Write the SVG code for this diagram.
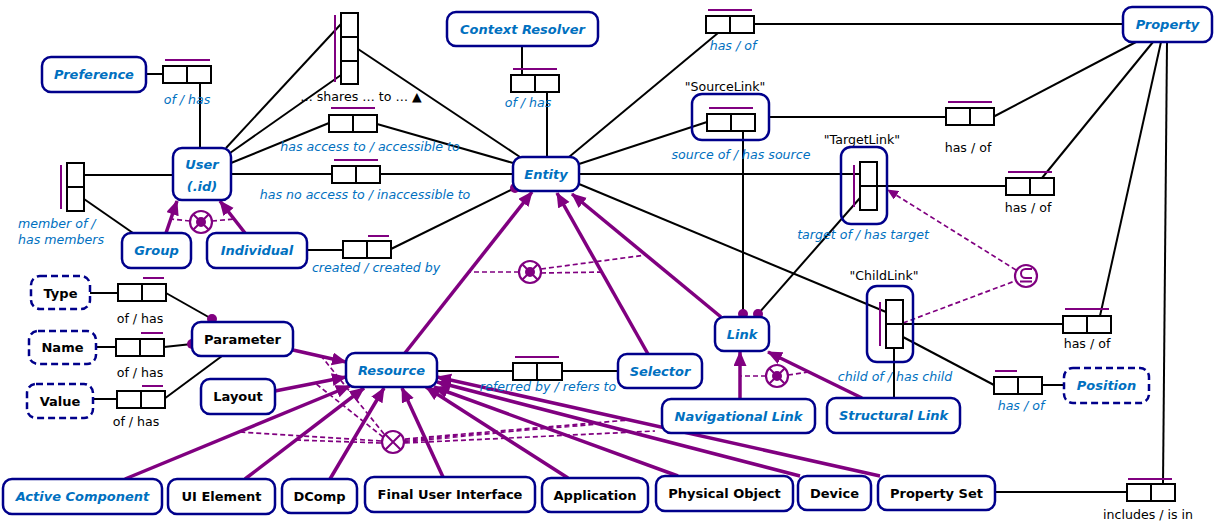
<svg xmlns="http://www.w3.org/2000/svg" width="1214" height="524" viewBox="0 0 1214 524">
<style>
.n{fill:#fff;stroke:#00008B;stroke-width:2.5}
.nd{fill:#fff;stroke:#00008B;stroke-width:2.5;stroke-dasharray:7 4}
.fr{fill:none;stroke:#00008B;stroke-width:2.5}
.rb{fill:#fff;stroke:#000;stroke-width:2}
.dv{stroke:#000;stroke-width:2}
.u{stroke:#800080;stroke-width:2;fill:none}
.c{stroke:#000;stroke-width:2;fill:none}
.s{stroke:#800080;stroke-width:3.5;fill:none;marker-end:url(#ah)}
.d{stroke:#800080;stroke-width:1.7;stroke-dasharray:5 3;fill:none}
.k{fill:#fff;stroke:#800080;stroke-width:2.2}
.dot{fill:#800080}
.tb{font-family:"DejaVu Sans",sans-serif;font-size:13px;font-weight:bold;font-style:italic;fill:#0070C0;text-anchor:middle}
.tk{font-family:"DejaVu Sans",sans-serif;font-size:13px;font-weight:bold;fill:#000;text-anchor:middle}
.li{font-family:"DejaVu Sans",sans-serif;font-size:12.6px;font-style:italic;fill:#0070C0;text-anchor:middle}
.lk{font-family:"DejaVu Sans",sans-serif;font-size:12.6px;fill:#000;text-anchor:middle}
</style>
<defs>
<marker id="ah" markerUnits="userSpaceOnUse" markerWidth="16" markerHeight="14" refX="14" refY="6.5" orient="auto">
<path d="M0,0 L15,6.5 L0,13 z" fill="#800080"/>
</marker>
<marker id="sh" markerUnits="userSpaceOnUse" markerWidth="12" markerHeight="10" refX="10" refY="5" orient="auto">
<path d="M0,0 L11,5 L0,10 z" fill="#800080"/>
</marker>
</defs>

<g id="connectors">
<path class="c" d="M146,74H163"/>
<path class="c" d="M200,83V148"/>
<path class="c" d="M84,175H173"/>
<path class="c" d="M84,199L133,233"/>
<path class="c" d="M226,148L341,24"/>
<path class="c" d="M230,153L341,75"/>
<path class="c" d="M231,163L329,123"/>
<path class="c" d="M377,124L513,163"/>
<path class="c" d="M358,49L520,157"/>
<path class="c" d="M231,174H332"/>
<path class="c" d="M379,174H513"/>
<path class="c" d="M307,250H343"/>
<path class="c" d="M391,249L515,188"/>
<path class="c" d="M522,46V75"/>
<path class="c" d="M547,92V157"/>
<path class="c" d="M569,157L718,33"/>
<path class="c" d="M754,24H1123"/>
<path class="c" d="M579,164L707,122"/>
<path class="c" d="M769,117H946"/>
<path class="c" d="M993,117L1136,42"/>
<path class="c" d="M743,131V314"/>
<path class="c" d="M579,174H860"/>
<path class="c" d="M860,198L758,314"/>
<path class="c" d="M877,186H1006"/>
<path class="c" d="M1042,178L1153,42"/>
<path class="c" d="M579,184L886,312"/>
<path class="c" d="M903,324H1063"/>
<path class="c" d="M1100,316L1161,42"/>
<path class="c" d="M903,337L994,385"/>
<path class="c" d="M1042,385H1064"/>
<path class="c" d="M894,348V398"/>
<path class="c" d="M1167,42L1163,484"/>
<path class="c" d="M995,492H1127"/>
<path class="c" d="M437,371H513"/>
<path class="c" d="M562,371H618"/>
<path class="c" d="M90,293H118"/>
<path class="c" d="M166,293L212,319"/>
<path class="c" d="M96,347H116"/>
<path class="c" d="M164,347L192,344"/>
<path class="c" d="M93,399H117"/>
<path class="c" d="M164,399L222,356"/>

<path class="s" d="M166,233L177,201"/>
<path class="s" d="M245,233L220,201"/>
<path class="s" d="M405,353L532,192"/>
<path class="s" d="M648,354L557,193"/>
<path class="s" d="M721,317L572,194"/>
<path class="s" d="M740,399V352"/>
<path class="s" d="M862,398L768,352"/>
<path class="s" d="M293,350L346,362"/>
<path class="s" d="M275,391L346,377"/>
<path class="s" d="M125,479L350,386"/>
<path class="s" d="M245,479L364,388"/>
<path class="s" d="M330,479L384,388"/>
<path class="s" d="M443,477L402,388"/>
<path class="s" d="M568,478L426,387"/>
<path class="s" d="M678,476L434,387"/>
<path class="s" d="M800,476L437,382"/>
<path class="s" d="M880,476L437,377"/>

<path class="d" d="M190,221L171,219M212,221L234,219"/>
<path class="d" d="M519,272H468M541,269L646,255M541,273L604,272"/>
<path class="d" d="M766,376H741M788,375L809,372"/>
<path class="d" d="M903,323L1015,281"/>
<path class="d" d="M1016,270L888,190" marker-end="url(#sh)"/>
<path class="d" d="M384,434L322,357M383,437L315,383M381,441L240,432M381,443L296,440M405,441L497,432M405,442L546,428M405,440L599,424M405,439L629,420M405,443L655,431"/>

<circle class="dot" cx="212" cy="319" r="5"/>
<circle class="dot" cx="192" cy="344" r="5"/>
<circle class="dot" cx="515" cy="188" r="5"/>
<circle class="dot" cx="743" cy="314" r="5"/>
<circle class="dot" cx="758" cy="314" r="5"/>
</g>

<g id="constraints">
<g id="xor-user"><circle class="k" cx="201" cy="222" r="11"/><path class="u" d="M193.2,214.2L208.8,229.8M208.8,214.2L193.2,229.8"/><circle class="dot" cx="201" cy="222" r="5"/></g>
<g id="xor-entity"><circle class="k" cx="530" cy="272" r="11"/><path class="u" d="M522.2,264.2L537.8,279.8M537.8,264.2L522.2,279.8"/><circle class="dot" cx="530" cy="272" r="5"/></g>
<g id="xor-link"><circle class="k" cx="777" cy="376" r="11"/><path class="u" d="M769.2,368.2L784.8,383.8M784.8,368.2L769.2,383.8"/><circle class="dot" cx="777" cy="376" r="5"/></g>
<g id="excl-resource"><circle class="k" cx="393" cy="442" r="11"/><path class="u" d="M385.2,434.2L400.8,449.8M400.8,434.2L385.2,449.8"/></g>
<g id="subset"><circle class="k" cx="1026" cy="276" r="11"/><path class="u" d="M1032,269H1025.5A4.5,4.5 0 0 0 1025.5,278H1032M1020,281.5H1032"/></g>
</g>

<g id="roles">
<g id="r-pref"><line class="u" x1="165" y1="60" x2="210" y2="60"/><rect class="rb" x="163" y="66" width="48" height="17"/><line class="dv" x1="187" y1="66" x2="187" y2="83"/><text class="li" x="187" y="104">of / has</text></g>
<g id="r-member"><line class="u" x1="61" y1="165" x2="61" y2="209"/><rect class="rb" x="67" y="163" width="17" height="48"/><line class="dv" x1="67" y1="187" x2="84" y2="187"/><text class="li" x="18" y="228" style="text-anchor:start">member of /</text><text class="li" x="18" y="244" style="text-anchor:start">has members</text></g>
<g id="r-shares"><line class="u" x1="335" y1="15" x2="335" y2="82"/><rect class="rb" x="341" y="13" width="17" height="71"/><line class="dv" x1="341" y1="37" x2="358" y2="37"/><line class="dv" x1="341" y1="61" x2="358" y2="61"/><text class="lk" x="361" y="101">… shares … to … ▲</text></g>
<g id="r-access"><line class="u" x1="331" y1="108" x2="375" y2="108"/><rect class="rb" x="329" y="115" width="48" height="17"/><line class="dv" x1="353" y1="115" x2="353" y2="132"/><text class="li" x="370" y="151">has access to / accessible to</text></g>
<g id="r-noaccess"><line class="u" x1="334" y1="160" x2="378" y2="160"/><rect class="rb" x="332" y="166" width="48" height="17"/><line class="dv" x1="356" y1="166" x2="356" y2="183"/><text class="li" x="365" y="199">has no access to / inaccessible to</text></g>
<g id="r-created"><line class="u" x1="368" y1="236" x2="389" y2="236"/><rect class="rb" x="343" y="241" width="48" height="17"/><line class="dv" x1="367" y1="241" x2="367" y2="258"/><text class="li" x="376" y="272">created / created by</text></g>
<g id="r-cr"><line class="u" x1="513" y1="69" x2="557" y2="69"/><rect class="rb" x="511" y="75" width="48" height="17"/><line class="dv" x1="535" y1="75" x2="535" y2="92"/><text class="li" x="528" y="107">of / has</text></g>
<g id="r-hasof-top"><line class="u" x1="708" y1="10" x2="752" y2="10"/><rect class="rb" x="706" y="16" width="48" height="17"/><line class="dv" x1="730" y1="16" x2="730" y2="33"/><text class="li" x="733" y="50">has / of</text></g>
<g id="r-source"><text class="lk" x="725" y="91">"SourceLink"</text><rect class="fr" x="692" y="94" width="77" height="46" rx="10"/><line class="u" x1="709" y1="108" x2="753" y2="108"/><rect class="rb" x="707" y="114" width="48" height="17"/><line class="dv" x1="731" y1="114" x2="731" y2="131"/><text class="li" x="741" y="159">source of / has source</text></g>
<g id="r-hasof-sl"><line class="u" x1="948" y1="102" x2="992" y2="102"/><rect class="rb" x="946" y="108" width="48" height="17"/><line class="dv" x1="970" y1="108" x2="970" y2="125"/><text class="lk" x="968" y="152">has / of</text></g>
<g id="r-target"><text class="lk" x="862" y="144">"TargetLink"</text><rect class="fr" x="841" y="147" width="46" height="77" rx="10"/><line class="u" x1="854" y1="165" x2="854" y2="207"/><rect class="rb" x="860" y="162" width="17" height="48"/><line class="dv" x1="860" y1="186" x2="877" y2="186"/><text class="li" x="863" y="239">target of / has target</text></g>
<g id="r-hasof-tl"><line class="u" x1="1008" y1="172" x2="1052" y2="172"/><rect class="rb" x="1006" y="178" width="48" height="17"/><line class="dv" x1="1030" y1="178" x2="1030" y2="195"/><text class="lk" x="1028" y="212">has / of</text></g>
<g id="r-child"><text class="lk" x="884" y="280">"ChildLink"</text><rect class="fr" x="867" y="286" width="46" height="76" rx="10"/><line class="u" x1="880" y1="302" x2="880" y2="346"/><rect class="rb" x="886" y="300" width="17" height="48"/><line class="dv" x1="886" y1="324" x2="903" y2="324"/><text class="li" x="895" y="381">child of / has child</text></g>
<g id="r-hasof-cl"><line class="u" x1="1065" y1="309" x2="1109" y2="309"/><rect class="rb" x="1063" y="316" width="48" height="17"/><line class="dv" x1="1087" y1="316" x2="1087" y2="333"/><text class="lk" x="1087" y="348">has / of</text></g>
<g id="r-hasof-pos"><line class="u" x1="995" y1="371" x2="1017" y2="371"/><rect class="rb" x="994" y="377" width="48" height="17"/><line class="dv" x1="1018" y1="377" x2="1018" y2="394"/><text class="li" x="1021" y="410">has / of</text></g>
<g id="r-includes"><line class="u" x1="1128" y1="479" x2="1172" y2="479"/><rect class="rb" x="1127" y="484" width="48" height="17"/><line class="dv" x1="1151" y1="484" x2="1151" y2="501"/><text class="lk" x="1148" y="519">includes / is in</text></g>
<g id="r-referred"><line class="u" x1="515" y1="357" x2="559" y2="357"/><rect class="rb" x="513" y="363" width="49" height="17"/><line class="dv" x1="537" y1="363" x2="537" y2="380"/><text class="li" x="548" y="391">referred by / refers to</text></g>
<g id="r-type"><line class="u" x1="143" y1="278" x2="164" y2="278"/><rect class="rb" x="118" y="284" width="48" height="17"/><line class="dv" x1="142" y1="284" x2="142" y2="301"/><text class="lk" x="140" y="323">of / has</text></g>
<g id="r-name"><line class="u" x1="141" y1="333" x2="163" y2="333"/><rect class="rb" x="116" y="339" width="48" height="17"/><line class="dv" x1="140" y1="339" x2="140" y2="356"/><text class="lk" x="140" y="377">of / has</text></g>
<g id="r-value"><line class="u" x1="142" y1="386" x2="163" y2="386"/><rect class="rb" x="117" y="391" width="48" height="17"/><line class="dv" x1="141" y1="391" x2="141" y2="408"/><text class="lk" x="136" y="426">of / has</text></g>
</g>

<g id="preference"><rect class="n" x="42" y="57" width="104" height="35" rx="9"/><text class="tb" x="94" y="79">Preference</text></g>
<g id="user"><rect class="n" x="173" y="148" width="58" height="52" rx="9"/><text class="tb" x="202" y="169">User</text><text class="tb" x="202" y="191">(.id)</text></g>
<g id="group"><rect class="n" x="122" y="233" width="69" height="35" rx="9"/><text class="tb" x="156.5" y="255">Group</text></g>
<g id="individual"><rect class="n" x="207" y="233" width="100" height="35" rx="9"/><text class="tb" x="257" y="255">Individual</text></g>
<g id="context-resolver"><rect class="n" x="447" y="12" width="151" height="34" rx="9"/><text class="tb" x="522.5" y="34">Context Resolver</text></g>
<g id="entity"><rect class="n" x="513" y="157" width="66" height="34" rx="9"/><text class="tb" x="546" y="179">Entity</text></g>
<g id="property"><rect class="n" x="1123" y="7" width="89" height="35" rx="9"/><text class="tb" x="1167.5" y="29">Property</text></g>
<g id="type"><rect class="nd" x="31" y="276" width="59" height="33" rx="9"/><text class="tk" x="60.5" y="298">Type</text></g>
<g id="name"><rect class="nd" x="29" y="331" width="67" height="33" rx="9"/><text class="tk" x="62.5" y="352">Name</text></g>
<g id="value"><rect class="nd" x="27" y="384" width="66" height="34" rx="9"/><text class="tk" x="60" y="406">Value</text></g>
<g id="parameter"><rect class="n" x="192" y="322" width="101" height="34" rx="9"/><text class="tk" x="242.5" y="343.5">Parameter</text></g>
<g id="layout"><rect class="n" x="201" y="379" width="74" height="35" rx="9"/><text class="tk" x="238" y="401">Layout</text></g>
<g id="resource"><rect class="n" x="346" y="353" width="91" height="34" rx="9"/><text class="tb" x="391.5" y="375">Resource</text></g>
<g id="selector"><rect class="n" x="618" y="354" width="84" height="34" rx="9"/><text class="tb" x="660" y="376">Selector</text></g>
<g id="link"><rect class="n" x="715" y="317" width="54" height="34" rx="9"/><text class="tb" x="742" y="339">Link</text></g>
<g id="navigational-link"><rect class="n" x="662" y="399" width="153" height="34" rx="9"/><text class="tb" x="738.5" y="421">Navigational Link</text></g>
<g id="structural-link"><rect class="n" x="827" y="398" width="133" height="35" rx="9"/><text class="tb" x="893.5" y="420">Structural Link</text></g>
<g id="position"><rect class="nd" x="1064" y="368" width="85" height="35" rx="9"/><text class="tb" x="1106.5" y="390">Position</text></g>
<g id="active-component"><rect class="n" x="3" y="479" width="159" height="35" rx="9"/><text class="tb" x="82.5" y="501">Active Component</text></g>
<g id="ui-element"><rect class="n" x="168" y="479" width="107" height="35" rx="9"/><text class="tk" x="221.5" y="501">UI Element</text></g>
<g id="dcomp"><rect class="n" x="282" y="479" width="75" height="34" rx="9"/><text class="tk" x="319.5" y="500.5">DComp</text></g>
<g id="final-user-interface"><rect class="n" x="365" y="477" width="170" height="35" rx="9"/><text class="tk" x="450" y="499">Final User Interface</text></g>
<g id="application"><rect class="n" x="542" y="478" width="106" height="34" rx="9"/><text class="tk" x="595" y="499.5">Application</text></g>
<g id="physical-object"><rect class="n" x="656" y="476" width="137" height="35" rx="9"/><text class="tk" x="724.5" y="498">Physical Object</text></g>
<g id="device"><rect class="n" x="798" y="476" width="73" height="34" rx="9"/><text class="tk" x="834.5" y="497.5">Device</text></g>
<g id="property-set"><rect class="n" x="878" y="476" width="117" height="34" rx="9"/><text class="tk" x="936.5" y="497.5">Property Set</text></g>
</svg>
